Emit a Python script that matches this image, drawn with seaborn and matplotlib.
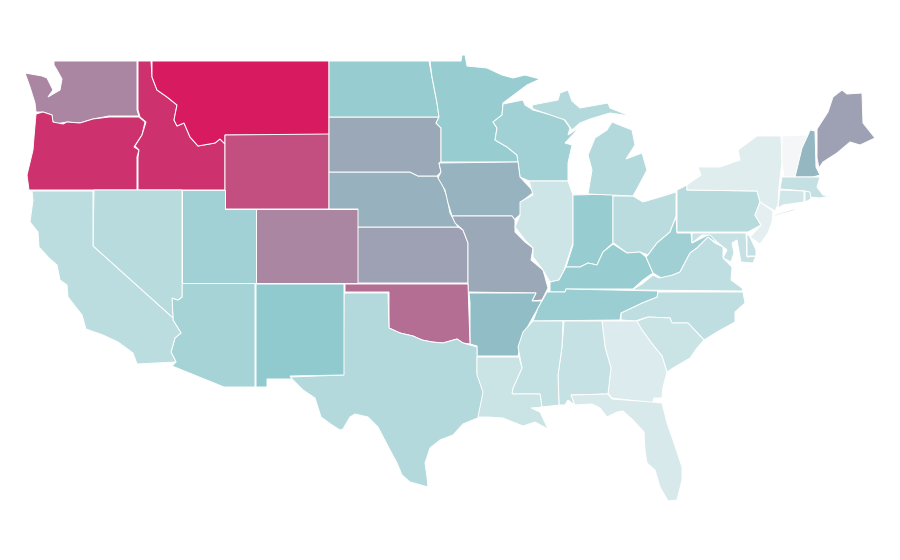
import matplotlib
matplotlib.use("Agg")
import matplotlib.pyplot as plt
import seaborn as sns
from matplotlib.colors import Normalize

sns.set_theme(style="white")

# Share per state (0-100)
state_values = {
    "MT": 100, "ID": 93, "OR": 93, "WY": 85, "OK": 76, "WA": 69, "CO": 69, "ME": 61, "KS": 61,
    "SD": 59, "MO": 59, "NE": 56.5, "IA": 56, "NH": 55, "AR": 53, "NM": 48, "ND": 45, "MN": 45,
    "IN": 45, "KY": 45, "WV": 41, "TN": 43, "WI": 40, "UT": 40, "AZ": 38.5, "TX": 32, "PA": 30,
    "NV": 29, "CA": 27, "OH": 28.5, "MI": 31, "MIU": 31, "VA": 26, "NC": 26, "MS": 24, "AL": 22.5,
    "SC": 20.5, "LA": 20.5, "IL": 18.5, "CT": 17, "FL": 14, "GA": 12, "NY": 10, "LI": 10, "NJ": 7.5,
    "VT": 0, "MA": 23.5, "RI": 21, "MD": 22.5, "DE": 23.5,
}

# Simplified state outlines, in the map's projected units
state_outlines = {
    "WA": [(54,61),(137,61),(137,110),(139,116),(109,116),(93,119),(80,123),(67,122),(55,124),(52,120),(52,115),(43,112),(36,112),(35,103),(30,87),(25,73),(42,76),(47,78),(53,90),(48,97),(60,90),(62,79),(57,70),(54,65)],
    "OR": [(36,114),(43,112),(52,115),(53,122),(63,124),(67,122),(80,123),(93,119),(109,117),(139,117),(145,122),(142,135),(134,147),(139,150),(137,157),(137,190),(29,190),(27,175),(33,150),(34,137)],
    "ID": [(138,61),(151,61),(152,77),(157,90),(167,97),(177,105),(174,120),(177,126),(184,123),(190,137),(198,146),(215,143),(220,139),(225,144),(225,190),(138,190),(138,157),(139,150),(135,146),(142,135),(146,122),(140,117),(138,110)],
    "MT": [(152,61),(329,61),(329,135),(225,135),(225,144),(220,139),(215,143),(198,146),(190,137),(184,123),(177,126),(174,120),(177,105),(167,97),(157,90),(152,77)],
    "WY": [(225,135),(329,134),(329,209),(225,209)],
    "CO": [(256,209),(358,209),(358,283),(256,283)],
    "KS": [(358,227),(458,227),(463,230),(468,243),(468,283),(358,283)],
    "NE": [(329,172),(410,172),(418,176),(437,176),(442,183),(447,197),(450,213),(458,227),(358,227),(358,209),(329,209)],
    "SD": [(329,117),(439,117),(436,123),(441,128),(441,162),(439,163),(441,172),(437,176),(418,176),(410,172),(329,172)],
    "ND": [(329,61),(429,61),(432,77),(437,103),(439,117),(329,117)],
    "MN": [(430,61),(461,61),(462,55),(465,55),(467,66),(487,68),(502,75),(513,78),(525,75),(540,79),(527,85),(503,103),(502,115),(493,122),(497,128),(495,140),(507,147),(517,155),(518,162),(441,162),(441,128),(436,123),(439,117),(437,103),(432,77)],
    "WI": [(503,104),(523,100),(525,105),(533,110),(563,118),(570,128),(568,135),(580,127),(565,143),(572,145),(568,163),(568,181),(529,181),(520,177),(518,162),(517,155),(507,147),(495,140),(497,128),(493,122),(502,115)],
    "IA": [(439,163),(518,162),(520,177),(534,192),(521,202),(522,213),(514,220),(512,216),(452,216),(448,203),(445,190),(438,178),(441,172)],
    "MO": [(452,216),(512,216),(515,220),(515,232),(525,242),(533,248),(531,260),(543,270),(548,288),(542,300),(532,301),(536,293),(468,292),(468,243),(463,230),(455,223)],
    "AR": [(469,293),(536,293),(532,301),(542,301),(533,317),(522,337),(518,356),(477,356),(477,346),(470,344),(470,303)],
    "OK": [(345,284),(468,284),(470,344),(463,343),(457,339),(443,343),(432,342),(422,340),(413,336),(400,333),(389,328),(389,292),(345,292)],
    "TX": [(344,293),(388,293),(389,328),(400,333),(413,336),(422,340),(432,342),(443,343),(457,339),(463,343),(470,345),(477,347),(477,373),(484,392),(480,417),(463,424),(453,435),(440,440),(430,448),(425,463),(427,477),(428,487),(410,482),(402,475),(397,463),(390,450),(378,427),(368,417),(355,414),(350,417),(343,429),(340,430),(332,425),(321,417),(315,398),(303,390),(290,377),(343,375)],
    "NM": [(256,284),(344,284),(344,375),(290,376),(292,379),(267,379),(267,387),(256,387)],
    "AZ": [(182,283),(255,283),(255,387),(224,387),(172,366),(176,362),(171,352),(175,338),(181,333),(173,320),(172,298),(178,300),(182,297)],
    "UT": [(182,190),(225,190),(225,209),(256,209),(256,283),(182,283)],
    "NV": [(94,190),(182,190),(182,297),(178,300),(172,298),(173,318),(93,246)],
    "CA": [(32,191),(93,191),(93,246),(173,318),(173,320),(181,333),(175,338),(171,352),(176,362),(137,364),(133,353),(118,342),(103,335),(86,329),(82,315),(68,297),(67,285),(60,280),(57,265),(49,258),(39,247),(38,232),(30,222),(33,200)],
    "IL": [(529,181),(568,181),(573,195),(573,243),(563,273),(559,280),(550,282),(543,270),(533,257),(533,248),(525,240),(515,227),(520,215),(520,202),(533,195)],
    "IN": [(573,195),(613,194),(613,243),(603,252),(597,265),(588,263),(580,267),(566,267),(573,245)],
    "OH": [(613,196),(633,196),(643,202),(660,197),(676,192),(676,216),(670,232),(657,243),(648,255),(640,252),(627,253),(615,244),(613,243)],
    "KY": [(613,244),(627,253),(640,252),(646,257),(653,273),(643,280),(633,289),(566,289),(565,292),(550,292),(550,282),(559,280),(566,267),(580,267),(588,263),(597,265),(603,252)],
    "WV": [(676,217),(677,233),(691,233),(692,243),(708,235),(713,235),(717,243),(708,237),(697,248),(690,253),(680,272),(663,279),(653,273),(646,257),(648,255),(657,243),(670,232)],
    "PA": [(677,190),(687,185),(687,190),(757,191),(760,202),(755,215),(761,225),(748,232),(677,232)],
    "NY": [(687,190),(687,185),(701,175),(698,167),(720,167),(740,160),(738,150),(757,136),(781,136),(782,162),(779,187),(778,205),(775,211),(760,202),(757,191)],
    "LI": [(773,215),(800,207),(793,211),(775,216)],
    "VT": [(782,136),(808,135),(802,148),(795,177),(784,177),(782,162)],
    "NH": [(810,130),(815,131),(816,167),(820,175),(813,177),(795,177),(802,148),(808,135)],
    "ME": [(817,129),(828,112),(833,97),(842,90),(847,94),(862,93),(863,123),(875,138),(860,145),(850,142),(837,153),(823,162),(819,168),(817,158)],
    "MA": [(782,177),(820,177),(817,187),(823,195),(830,196),(820,198),(810,197),(805,191),(780,189)],
    "CT": [(780,190),(804,191),(804,202),(783,205),(778,208)],
    "RI": [(805,191),(810,192),(811,199),(805,202)],
    "NJ": [(760,202),(773,211),(772,222),(768,233),(760,244),(750,237),(761,225),(755,215)],
    "MD": [(692,233),(746,233),(747,257),(756,256),(753,263),(741,262),(737,240),(732,243),(734,253),(731,262),(723,258),(727,250),(717,242),(710,235),(702,235),(692,243)],
    "DE": [(747,233),(750,237),(756,250),(756,256),(747,256)],
    "VA": [(632,290),(642,284),(653,275),(659,278),(673,275),(680,272),(690,253),(697,248),(708,237),(715,243),(723,247),(723,258),(732,267),(731,280),(742,288),(743,291)],
    "NC": [(658,292),(743,292),(745,303),(735,312),(735,322),(717,332),(704,340),(688,323),(672,323),(670,318),(648,317),(635,321),(621,320),(621,313),(642,303),(657,297)],
    "TN": [(547,292),(565,292),(566,289),(658,291),(657,297),(642,303),(621,313),(620,320),(533,321),(538,308)],
    "SC": [(635,322),(648,317),(670,318),(672,323),(688,323),(704,340),(697,348),(690,358),(673,368),(667,372),(662,356),(653,345),(642,330)],
    "GA": [(602,321),(637,321),(642,330),(653,345),(662,356),(667,372),(663,387),(662,398),(654,398),(652,405),(645,402),(612,398),(608,393),(611,368),(605,347)],
    "AL": [(564,321),(602,321),(605,347),(611,368),(608,394),(571,395),(575,405),(568,400),(565,405),(559,405),(558,375),(562,347)],
    "MS": [(533,321),(563,321),(562,347),(558,375),(559,405),(542,407),(540,394),(512,394),(513,388),(522,368),(518,347),(523,332)],
    "LA": [(477,357),(519,357),(522,368),(513,388),(512,394),(540,394),(542,407),(531,408),(540,412),(548,429),(535,422),(523,426),(503,418),(488,417),(478,417),(483,392),(477,375)],
    "FL": [(571,395),(608,394),(612,399),(652,402),(662,403),(667,423),(673,440),(682,467),(682,480),(677,500),(668,501),(660,487),(655,470),(647,463),(645,450),(644,432),(633,420),(623,411),(617,412),(607,417),(600,408),(592,404),(575,405)],
    "MI": [(588,194),(592,170),(588,155),(595,138),(607,130),(612,122),(632,130),(635,145),(626,159),(642,153),(647,170),(638,187),(633,196)],
    "MIU": [(532,105),(558,100),(560,93),(568,90),(572,101),(580,108),(608,103),(610,108),(630,116),(610,113),(590,119),(580,123),(572,130),(565,120),(533,109)],
}

palette_stops = ["#f4f6f7", "#8dc8cc", "#d81b60"]
cmap = sns.blend_palette(palette_stops, as_cmap=True)
norm = Normalize(0, 100)

fig, ax = plt.subplots(figsize=(9, 5.6), dpi=100)
fig.subplots_adjust(left=0, right=1, bottom=0, top=1)
for state, outline in state_outlines.items():
    xs, ys = zip(*outline)
    ax.fill(xs, ys, facecolor=cmap(norm(state_values[state])), edgecolor="white", linewidth=0.7)
ax.set_xlim(0, 900)
ax.set_ylim(560, 0)
ax.axis("off")
fig.savefig("out.png", dpi=100, facecolor="white")
